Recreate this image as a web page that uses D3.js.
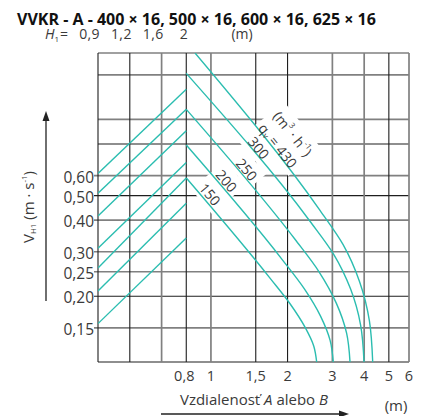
<!DOCTYPE html>
<html>
<head>
<meta charset="utf-8">
<script src="https://cdn.jsdelivr.net/npm/d3@7"></script>
<style>
  html, body { margin: 0; padding: 0; background: #fff; }
  svg { display: block; font-family: "Open Sans", "Noto Sans", sans-serif; }
</style>
</head>
<body>
<svg id="chart" width="428" height="416"></svg>
<script>
// ---- data -------------------------------------------------------------
const titleText = "VVKR - A - 400 × 16, 500 × 16, 600 × 16, 625 × 16";

// throw distance A or B (m), logarithmic axis
const distanceTicks = [0.8, 1, 1.5, 2, 3, 4, 5, 6];
const distanceTickLabels = ["0,8", "1", "1,5", "2", "3", "4", "5", "6"];

// mounting height H1 (m); its scale is the distance scale times 0.4
const mountHeights = [0.9, 1.2, 1.6, 2];
const mountHeightLabels = ["0,9", "1,2", "1,6", "2"];
const heightToDistance = 0.4;

// air velocity V_H1 (m/s), logarithmic axis
const velocityTicks = [0.6, 0.5, 0.4, 0.3, 0.25, 0.2, 0.15];
const velocityTickLabels = ["0,60", "0,50", "0,40", "0,30", "0,25", "0,20", "0,15"];
const velocityGrid = [1.83, 1.5, 1.0, 0.8, 0.6, 0.5, 0.4, 0.3, 0.25, 0.2, 0.15, 0.11];

// rising guide lines: velocity at H1 = 0,9 and at distance 0,8 m
const riseStart = [0.612, 0.511, 0.415, 0.310, 0.259, 0.210, 0.156];
const riseEnd   = [1.316, 1.096, 0.902, 0.675, 0.587, 0.466, 0.340];

// air flow q_v (m3/h) curves: [distance m, velocity m/s]
const flowRates = [150, 200, 250, 300, 430];
const flow150 = [[0.8, 0.587], [1.706, 0.236], [2.052, 0.186], [2.342, 0.151], [2.536, 0.127], [2.603, 0.11]];
const flow200 = [[0.8, 0.792], [1.902, 0.280], [2.329, 0.214], [2.695, 0.167], [2.939, 0.134], [3.025, 0.11]];
const flow250 = [[0.8, 1.096], [2.139, 0.336], [2.659, 0.250], [3.108, 0.188], [3.412, 0.143], [3.519, 0.11]];
const flow300 = [[0.8, 1.521], [2.450, 0.396], [3.036, 0.293], [3.535, 0.214], [3.873, 0.154], [3.994, 0.11]];
const flow430 = [[0.866, 1.83], [2.682, 0.437], [3.306, 0.320], [3.834, 0.229], [4.194, 0.160], [4.321, 0.11]];
// distance along each curve where its value is written
const flowLabelAt = [0.94, 1.09, 1.31, 1.46, 1.74];

// ---- drawing ----------------------------------------------------------
const svg = d3.select("#chart");
const teal = "#2bbdb0";
const textCol = "#3a3a3a";

const x = d3.scaleLog().domain([0.36, 6]).range([98, 409]);
const y = d3.scaleLog().domain([0.11, 1.83]).range([362, 53]);
const [x0, x1] = x.range();
const [yB, yT] = y.range();

// title
svg.append("text").attr("x", 17).attr("y", 25)
  .attr("font-size", 16).attr("font-weight", 700).attr("fill", "#111")
  .text(titleText);

// grid
const grid = svg.append("g");
const heavyX = new Set([0.64, 1, 3, 4, 6]);
const heavyY = new Set([1.83, 1.5, 1.0, 0.6, 0.4, 0.3, 0.25, 0.15]);
const gridX = mountHeights.map(h => +(h * heightToDistance).toFixed(3)).concat(distanceTicks.slice(1));
const styleLine = (sel, heavy) => sel
  .attr("stroke", heavy ? "#808080" : "#1e1e1e")
  .attr("stroke-width", heavy ? 1.7 : 1.1);

velocityGrid.filter(v => heavyY.has(v)).concat(velocityGrid.filter(v => !heavyY.has(v))).forEach(v => {
  const labelled = velocityTicks.includes(v);
  styleLine(grid.append("line")
    .attr("x1", labelled ? x0 - 4 : x0).attr("x2", x1)
    .attr("y1", y(v)).attr("y2", y(v)), heavyY.has(v));
});
gridX.filter(d => heavyX.has(d)).concat(gridX.filter(d => !heavyX.has(d))).forEach(d => {
  styleLine(grid.append("line")
    .attr("x1", x(d)).attr("x2", x(d))
    .attr("y1", yT).attr("y2", yB), heavyX.has(d));
});

// label placement along a curve
function labelPos(pts, dist, off) {
  let i = 0;
  while (i < pts.length - 2 && pts[i + 1][0] < dist) i++;
  const [a, b] = [pts[i], pts[i + 1]];
  const t = (Math.log(dist) - Math.log(a[0])) / (Math.log(b[0]) - Math.log(a[0]));
  const v = Math.exp(Math.log(a[1]) + t * (Math.log(b[1]) - Math.log(a[1])));
  const ang = Math.atan2(y(b[1]) - y(a[1]), x(b[0]) - x(a[0]));
  return {
    cx: x(dist) + Math.sin(ang) * off,
    cy: y(v) - Math.cos(ang) * off,
    deg: ang * 180 / Math.PI
  };
}

const flowCurves = [flow150, flow200, flow250, flow300, flow430];

// label boxes go under the curves so they cut only the grid
const labelLayer = svg.append("g");
const curveLayer = svg.append("g");
const labelTextLayer = svg.append("g");

svg.append("clipPath").attr("id", "plot")
  .append("rect").attr("x", x0).attr("y", yT).attr("width", x1 - x0).attr("height", yB - yT);
curveLayer.attr("clip-path", "url(#plot)");

const lineGen = d3.line().x(d => x(d[0])).y(d => y(d[1]));
const curveGen = d3.line().x(d => x(d[0])).y(d => y(d[1])).curve(d3.curveMonotoneY);

riseStart.forEach((v, i) => {
  curveLayer.append("path")
    .attr("d", lineGen([[mountHeights[0] * heightToDistance, v], [distanceTicks[0], riseEnd[i]]]))
    .attr("fill", "none").attr("stroke", teal).attr("stroke-width", 1.4);
});
flowCurves.forEach(pts => {
  curveLayer.append("path").attr("d", curveGen(pts))
    .attr("fill", "none").attr("stroke", teal).attr("stroke-width", 1.4);
});

flowCurves.forEach((pts, i) => {
  const p = labelPos(pts, flowLabelAt[i], 8);
  const g = labelTextLayer.append("g")
    .attr("transform", `translate(${p.cx},${p.cy}) rotate(${p.deg})`);
  if (flowRates[i] === 430) {
    const t1 = g.append("text").attr("y", -19);
    t1.append("tspan").text("(m");
    t1.append("tspan").attr("font-size", 8).attr("dy", -5).text("3");
    t1.append("tspan").attr("dy", 5).text(" · h");
    t1.append("tspan").attr("font-size", 8).attr("dy", -5).text("-1");
    t1.append("tspan").attr("dy", 5).text(")");
    const t2 = g.append("text").attr("y", 0);
    t2.append("tspan").text("q");
    t2.append("tspan").attr("font-size", 8).attr("dy", 3).text("v");
    t2.append("tspan").attr("dy", -3).text(" = " + flowRates[i]);
  } else {
    g.append("text").text(flowRates[i]);
  }
  g.selectAll("text")
    .attr("text-anchor", "middle").attr("dominant-baseline", "central")
    .attr("font-size", 14).attr("fill", textCol);
  const bb = g.node().getBBox();
  labelLayer.append("rect")
    .attr("transform", `translate(${p.cx},${p.cy}) rotate(${p.deg})`)
    .attr("x", bb.x - 4).attr("y", bb.y - 2)
    .attr("width", bb.width + 8).attr("height", bb.height + 4)
    .attr("fill", "#fff");
});

// velocity tick labels
velocityTicks.forEach((v, i) => {
  svg.append("text").attr("x", x0 - 4).attr("y", y(v) + 1)
    .attr("text-anchor", "end").attr("dominant-baseline", "central")
    .attr("font-size", 15.5).attr("fill", textCol)
    .text(velocityTickLabels[i]);
});

// distance tick labels
distanceTicks.forEach((d, i) => {
  svg.append("text").attr("x", x(d) - (i === 0 ? 2 : 0)).attr("y", 381)
    .attr("text-anchor", "middle").attr("font-size", 14.5).attr("fill", textCol)
    .text(distanceTickLabels[i]);
});

// mounting height row
const hRow = svg.append("text").attr("x", 45).attr("y", 39)
  .attr("font-size", 14).attr("fill", textCol);
hRow.append("tspan").attr("font-style", "italic").text("H");
hRow.append("tspan").attr("font-size", 8).attr("dy", 3).text("1");
hRow.append("tspan").attr("dy", -3).attr("x", 60).text("=");
mountHeights.forEach((h, i) => {
  svg.append("text").attr("x", x(h * heightToDistance) + 2).attr("y", 39)
    .attr("text-anchor", "end").attr("font-size", 14).attr("letter-spacing", 0.4)
    .attr("fill", textCol).text(mountHeightLabels[i]);
});
svg.append("text").attr("x", 242).attr("y", 39).attr("text-anchor", "middle")
  .attr("font-size", 14).attr("fill", textCol).text("(m)");

// axis titles
const yTitle = svg.append("text")
  .attr("transform", "translate(28,207) rotate(-90)")
  .attr("text-anchor", "middle").attr("dominant-baseline", "central")
  .attr("font-size", 15).attr("fill", textCol);
yTitle.append("tspan").text("V");
yTitle.append("tspan").attr("font-size", 8).attr("dy", 4).text("H1");
yTitle.append("tspan").attr("dy", -4).text(" (m · s");
yTitle.append("tspan").attr("font-size", 8).attr("dy", -5).text("-1");
yTitle.append("tspan").attr("dy", 5).text(")");

const xTitle = svg.append("text").attr("x", 254).attr("y", 405)
  .attr("text-anchor", "middle").attr("font-size", 15).attr("fill", textCol);
xTitle.append("tspan").text("Vzdialenosť ");
xTitle.append("tspan").attr("font-style", "italic").text("A");
xTitle.append("tspan").text(" alebo ");
xTitle.append("tspan").attr("font-style", "italic").text("B");

svg.append("text").attr("x", 396).attr("y", 411).attr("text-anchor", "middle")
  .attr("font-size", 15).attr("fill", textCol).text("(m)");

// axis arrows
svg.append("line").attr("x1", 46).attr("x2", 46).attr("y1", 301).attr("y2", 120)
  .attr("stroke", "#222").attr("stroke-width", 1.3);
svg.append("path").attr("d", "M46,111 L42.5,121 L49.5,121 Z").attr("fill", "#222");
svg.append("line").attr("x1", 161).attr("x2", 340).attr("y1", 414).attr("y2", 414)
  .attr("stroke", "#222").attr("stroke-width", 1.3);
svg.append("path").attr("d", "M349,414 L339,410.5 L339,417.5 Z").attr("fill", "#222");
</script>
</body>
</html>
